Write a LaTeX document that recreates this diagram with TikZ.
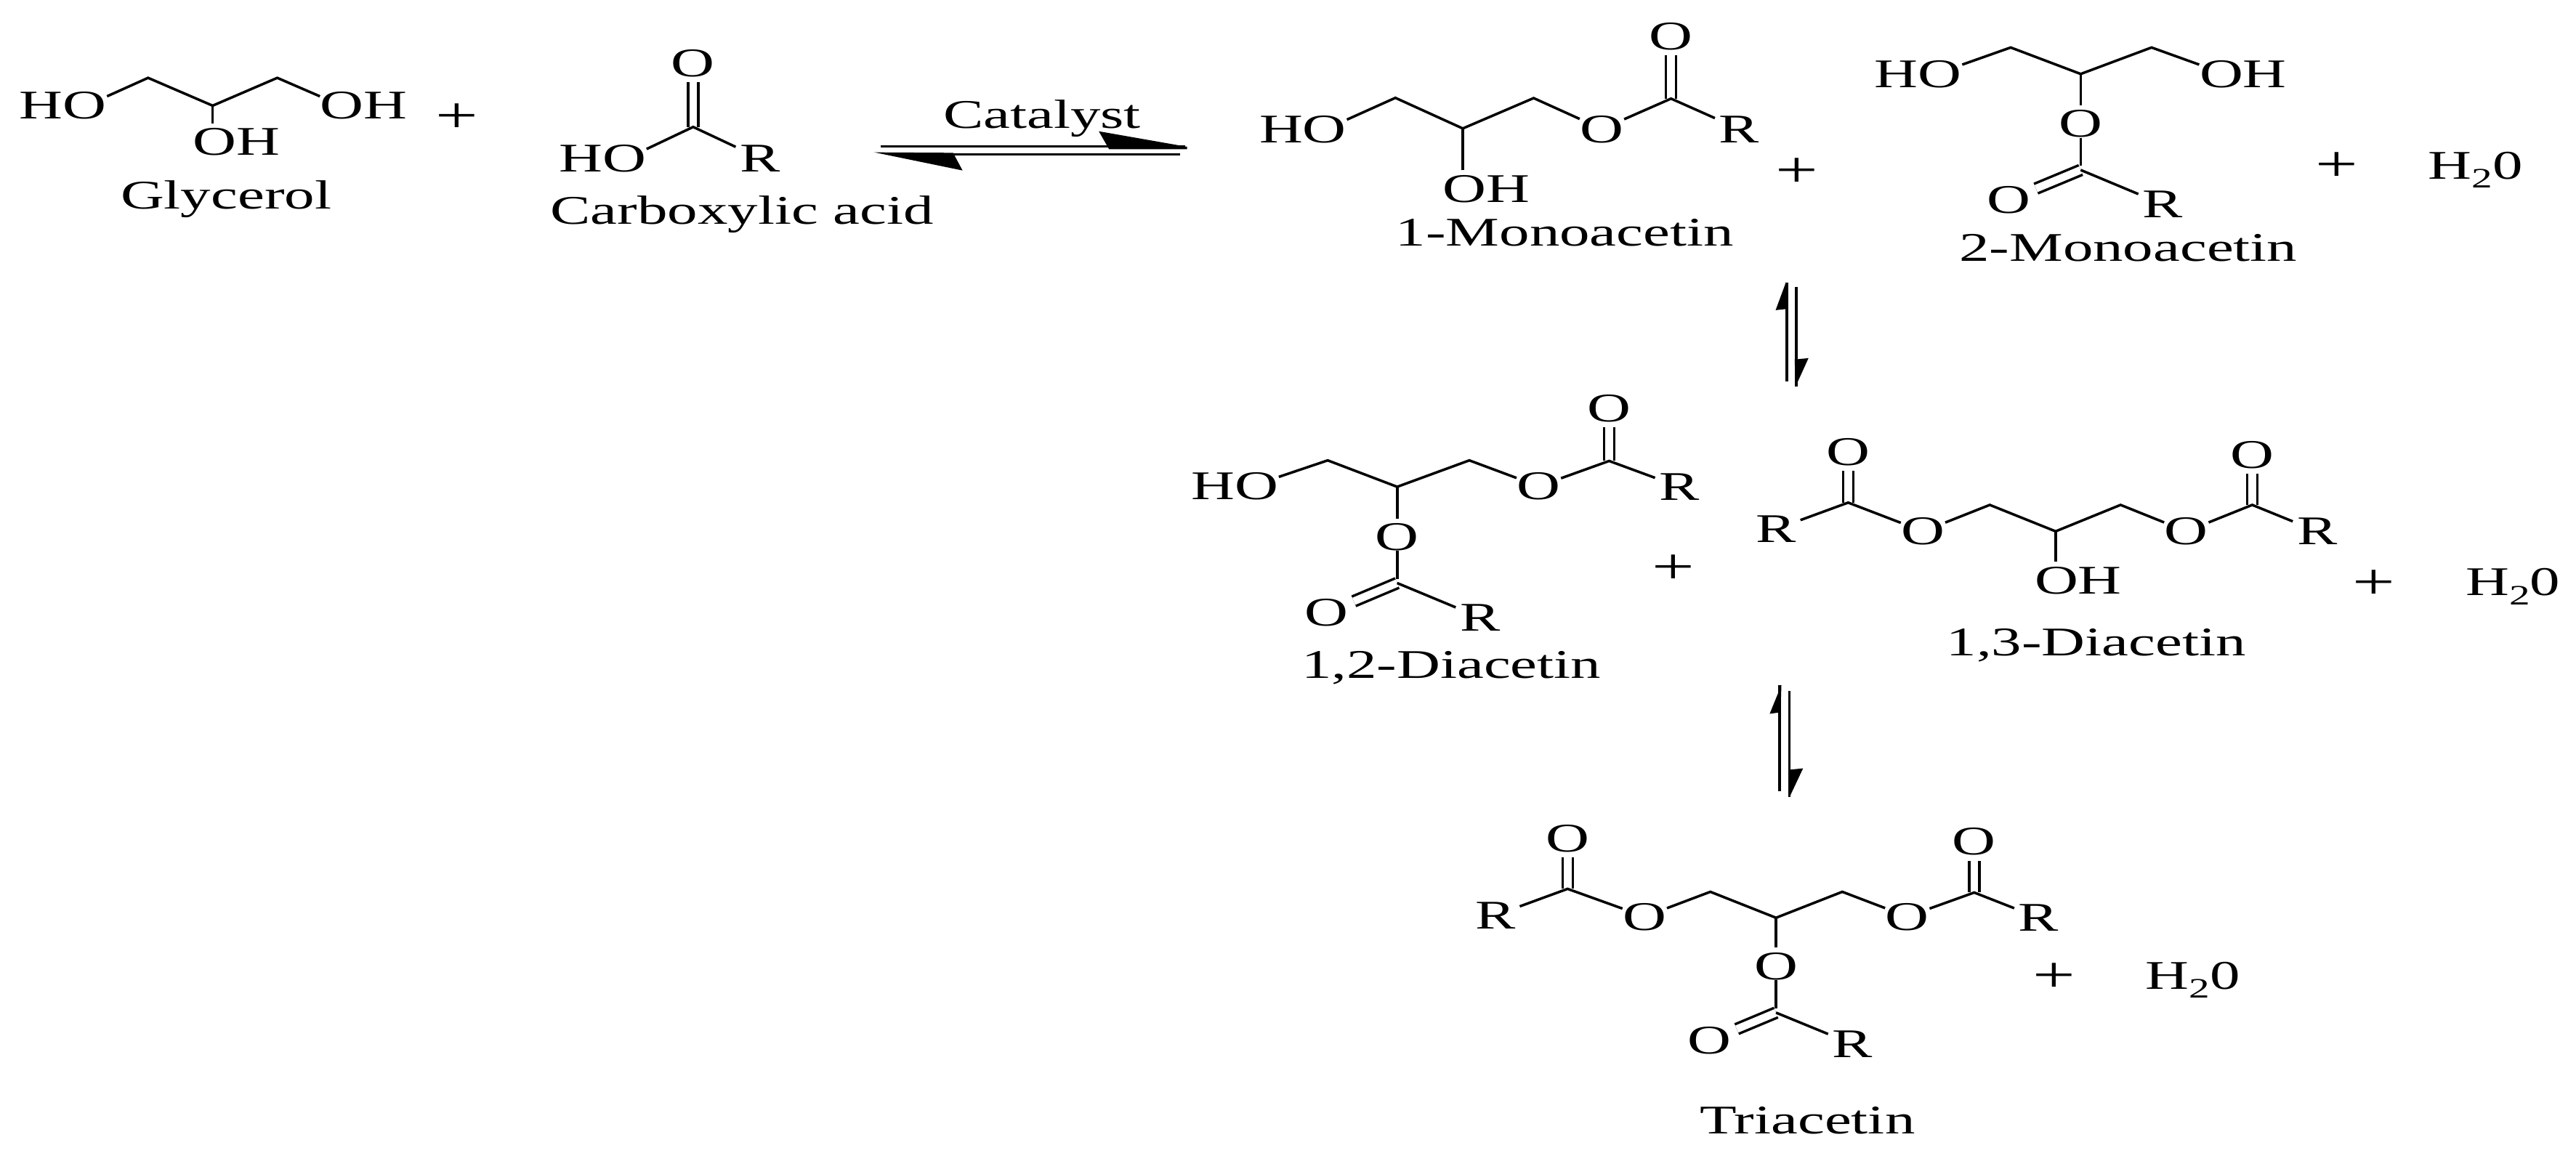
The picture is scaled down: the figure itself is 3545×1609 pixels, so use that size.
\documentclass[tikz,border=0pt]{standalone}
\usepackage{fontspec}
\setmainfont{Liberation Serif}[FakeStretch=1.48]
\tikzset{
  every node/.style={font=\fontsize{15.93}{18}\selectfont},
  atom/.style={inner sep=0pt,text height=.37cm,text depth=0pt},
  ratom/.style={atom,outer xsep=.06cm},
  plussign/.style={inner sep=0pt,text height=10pt,text depth=0pt,font=\fontsize{20}{22}\selectfont},
  bond/.style={draw,line width=.035cm,line join=miter},
  dbl/.style={draw,line width=.035cm,double,double distance=.105cm,shorten >=.07cm},
  stub/.style={bond,shorten >=.06cm},
  zoomA/.style={shift={(0,0)},x=.010841cm,y=-.003333cm},
  zoomB/.style={shift={(1680,0)},x=.011894cm,y=-.003571cm},
  zoomC/.style={shift={(1600,500)},x=.012404cm,y=-.003954cm},
  zoomD/.style={shift={(1950,1080)},x=.008292cm,y=-.003374cm},
}
\newcommand{\water}{H\raisebox{-.22em}{\fontsize{11}{11}\selectfont 2}0}
\begin{document}
\begin{tikzpicture}[x=.01cm,y=-.01cm]
\useasboundingbox (0,0) rectangle (3545,1609);

% ---- top left: glycerol, acid, first equilibrium
\begin{scope}[zoomA]
\node[atom] (gHO) at (80,437) {HO};
\node[atom] (gOHr) at (462,437) {OH};
\node[atom] (gOHb) at (300,587) {OH};
\node[atom] (gName) at (287,808) {Glycerol};
\coordinate (g1) at (188,322);
\coordinate (g2) at (270,437);
\coordinate (g3) at (352,322);
\draw[bond] (gHO.12) -- (g1) -- (g2) -- (g3) -- (gOHr.168);
\draw[stub] (g2) -- (g2 |- gOHb.north);
\node[plussign] (p1) at (580,497) {+};
\node[atom] (cO) at (880,260) {O};
\node[atom] (cHO) at (765,655) {HO};
\node[ratom] (cR) at (965,655) {R};
\node[atom] (cName) at (942,870) {Carboxylic acid};
\coordinate (c1) at (880,525);
\draw[dbl] (c1) -- (cO);
\draw[bond] (cHO.12) -- (c1) -- (cR);
\node[atom] (cat) at (1323,475) {Catalyst};
\coordinate (e1a) at (1118,606);
\coordinate (e1b) at (1505,606);
\coordinate (e1c) at (1498,638);
\coordinate (e1d) at (1210,638);
\draw[bond] (e1a) -- (e1b);
\draw[bond] (e1c) -- (e1d);
\fill (1395,543) -- (1507,607) -- (1507,617) -- (1408,617) -- cycle;
\fill (1110,630) -- (1222,705) -- (1210,632) -- cycle;
\end{scope}

% ---- monoacetins
\begin{scope}[zoomB]
\node[atom] (mHO) at (95,497) {HO};
\node[atom] (mOHb) at (307,727) {OH};
\node[atom] (mO) at (441,497) {O};
\node[atom] (mOd) at (521,140) {O};
\node[ratom] (mR) at (600,497) {R};
\node[atom] (mName) at (398,895) {1-Monoacetin};
\coordinate (m1) at (202,377);
\coordinate (m2) at (280,495);
\coordinate (m3) at (362,378);
\coordinate (m4) at (521,380);
\draw[dbl] (m4) -- (mOd);
\draw[bond] (mHO.12) -- (m1) -- (m2) -- (m3) -- (mO);
\draw[bond] (mO) -- (m4) -- (mR);
\draw[stub] (m2) -- (m2 |- mOHb.north);
\node[plussign] (p2) at (667,672) {+};
\node[atom] (nHO) at (807,285) {HO};
\node[atom] (nOH) at (1183,285) {OH};
\node[atom] (nO) at (995,477) {O};
\node[atom] (nOd) at (912,770) {O};
\node[ratom] (nR) at (1090,787) {R};
\node[atom] (nName) at (1050,955) {2-Monoacetin};
\coordinate (n1) at (914,183);
\coordinate (n2) at (995,285);
\coordinate (n3) at (1077,183);
\coordinate (n4) at (995,655);
\draw[dbl] (n4) -- (nOd);
\draw[bond] (nHO.12) -- (n1) -- (n2) -- (n3) -- (nOH.168);
\draw[stub] (n2) -- (nO);
\draw[stub] (nO) -- (n4);
\draw[bond] (n4) -- (nR);
\node[plussign] (p3) at (1291,650) {+};
\node[atom] (w1) at (1452,637) {\water};
\coordinate (e2a) at (655,1090);
\coordinate (e2b) at (655,1470);
\coordinate (e2c) at (666,1105);
\coordinate (e2d) at (666,1490);
\draw[bond] (e2a) -- (e2b);
\draw[bond] (e2c) -- (e2d);
\fill (654,1087) -- (642,1195) -- (656,1190) -- cycle;
\fill (665,1490) -- (680,1380) -- (664,1385) -- cycle;
\end{scope}

% ---- diacetins
\begin{scope}[zoomC]
\node[atom] (aHO) at (80,428) {HO};
\node[atom] (aO) at (417,428) {O};
\node[atom] (aOd) at (495,157) {O};
\node[ratom] (aR) at (573,430) {R};
\node[atom] (aOm) at (260,605) {O};
\node[atom] (aOe) at (182,868) {O};
\node[ratom] (aRb) at (352,885) {R};
\node[atom] (aName) at (320,1050) {1,2-Diacetin};
\coordinate (a1) at (183,338);
\coordinate (a2) at (260,430);
\coordinate (a3) at (340,338);
\coordinate (a4) at (495,340);
\coordinate (a5) at (260,765);
\draw[dbl] (a4) -- (aOd);
\draw[dbl] (a5) -- (aOe);
\draw[bond] (aHO.12) -- (a1) -- (a2) -- (a3) -- (aO);
\draw[bond] (aO) -- (a4) -- (aR);
\draw[stub] (a2) -- (aOm);
\draw[stub] (aOm) -- (a5);
\draw[bond] (a5) -- (aRb);
\node[plussign] (p4) at (566,722) {+};
\node[atom] (bOl) at (760,308) {O};
\node[ratom] (bRl) at (680,577) {R};
\node[atom] (bO1) at (843,585) {O};
\node[atom] (bO2) at (1135,585) {O};
\node[atom] (bOr) at (1208,318) {O};
\node[ratom] (bRr) at (1280,585) {R};
\node[atom] (bOH) at (1015,755) {OH};
\node[atom] (bName) at (1035,970) {1,3-Diacetin};
\coordinate (b1) at (760,485);
\coordinate (b2) at (917,493);
\coordinate (b3) at (990,585);
\coordinate (b4) at (1062,493);
\coordinate (b5) at (1208,493);
\draw[dbl] (b1) -- (bOl);
\draw[dbl] (b5) -- (bOr);
\draw[bond] (bRl) -- (b1) -- (bO1);
\draw[bond] (bO1) -- (b2) -- (b3) -- (b4) -- (bO2);
\draw[bond] (bO2) -- (b5) -- (bRr);
\draw[stub] (b3) -- (b3 |- bOH.north);
\node[plussign] (p5) at (1343,775) {+};
\node[atom] (w2) at (1497,762) {\water};
\coordinate (e3a) at (684,1120);
\coordinate (e3b) at (684,1490);
\coordinate (e3c) at (695,1140);
\coordinate (e3d) at (695,1510);
\draw[bond] (e3a) -- (e3b);
\draw[bond] (e3c) -- (e3d);
\fill (686,1120) -- (673,1220) -- (685,1215) -- cycle;
\fill (695,1510) -- (710,1410) -- (694,1415) -- cycle;
\end{scope}

% ---- triacetin
\begin{scope}[zoomD]
\node[atom] (tOl) at (250,220) {O};
\node[ratom] (tRl) at (130,533) {R};
\node[atom] (tO1) at (378,538) {O};
\node[atom] (tO2) at (814,538) {O};
\node[atom] (tOr) at (925,232) {O};
\node[ratom] (tRr) at (1032,543) {R};
\node[atom] (tOm) at (596,740) {O};
\node[atom] (tOe) at (486,1043) {O};
\node[ratom] (tRb) at (723,1058) {R};
\node[atom] (tName) at (648,1370) {Triacetin};
\coordinate (t1) at (250,425);
\coordinate (t2) at (487,437);
\coordinate (t3) at (596,543);
\coordinate (t4) at (706,437);
\coordinate (t5) at (925,440);
\coordinate (t6) at (596,930);
\draw[dbl] (t1) -- (tOl);
\draw[dbl] (t5) -- (tOr);
\draw[dbl] (t6) -- (tOe);
\draw[bond] (tRl) -- (t1) -- (tO1);
\draw[bond] (tO1) -- (t2) -- (t3) -- (t4) -- (tO2);
\draw[bond] (tO2) -- (t5) -- (tRr);
\draw[stub] (t3) -- (tOm);
\draw[stub] (tOm) -- (t6);
\draw[bond] (t6) -- (tRb);
\node[plussign] (p6) at (1058,795) {+};
\node[atom] (w3) at (1288,779) {\water};
\end{scope}
\end{tikzpicture}
\end{document}
